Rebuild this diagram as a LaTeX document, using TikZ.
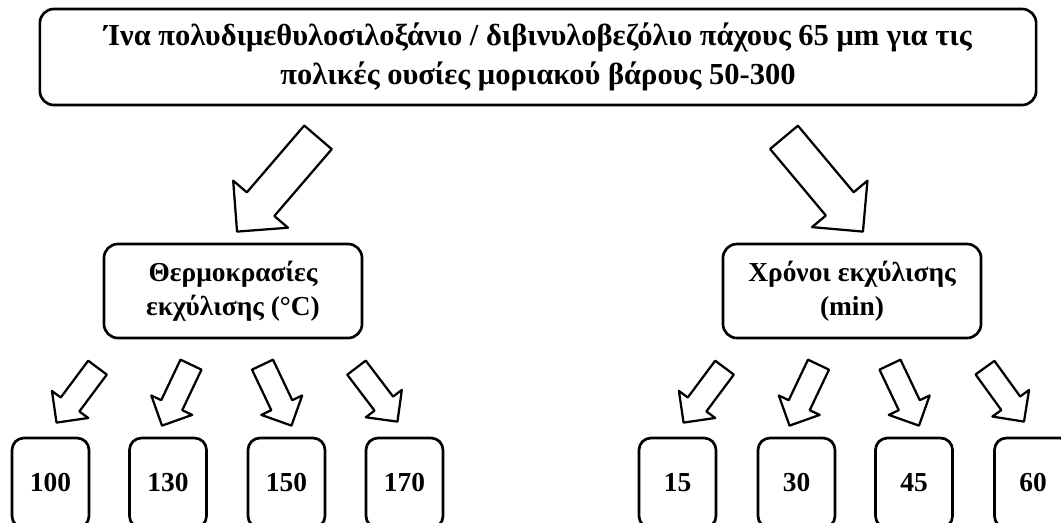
\documentclass[tikz,border=0pt]{standalone}
\usepackage{fontspec}
\setmainfont{Liberation Serif}
\usetikzlibrary{calc,shapes.arrows}

\begin{document}
\begin{tikzpicture}[x=0.025cm, y=-0.025cm, line join=round,
    box/.style={draw, line width=1.9pt, rounded corners=0.3cm, align=center, inner sep=0pt},
    head/.style={font=\fontsize{21.7}{28}\selectfont\bfseries},
    txt/.style={font=\fontsize{19.5}{24.5}\selectfont\bfseries},
    group/.style={box, txt, minimum width=6.45cm, minimum height=2.35cm, rounded corners=0.35cm},
    val/.style={box, txt, minimum width=1.925cm, minimum height=2.25cm},
    fat/.style 2 args={to path={let \p1=($(\tikztotarget)-(\tikztostart)$), \n1={veclen(\x1,\y1)}, \n2={atan2(\y1,\x1)} in
      node[single arrow, draw, line width=1.6pt, inner xsep=0pt, inner ysep=#1, outer sep=0pt,
        single arrow head extend=#2, minimum height=\n1, rotate=\n2, anchor=tail] at (\tikztostart) {} (\tikztotarget)}},
    bigarrow/.style={fat={0.425cm}{0.45cm}},
    smallarrow/.style={fat={0.2625cm}{0.275cm}}]
  \path[use as bounding box] (0,0) rectangle (1061,522);
  \clip (0,0) rectangle (1061,522);

  \node[box, head, minimum width=24.9cm, minimum height=2.4cm, rounded corners=0.35cm] (top) at (538,57)
    {Ίνα πολυδιμεθυλοσιλοξάνιο / διβινυλοβεζόλιο πάχους 65 μm για τις\\πολικές ουσίες μοριακού βάρους 50-300};

  \node[group] (temp) at (233,291) {Θερμοκρασίες\\εκχύλισης (°C)};
  \node[group] (time) at (852,291) {Χρόνοι εκχύλισης\\(min)};
  \draw ($(top.south)+(-220,31)$) to[bigarrow] ($(temp.north)+(4,-11)$);
  \draw ($(top.south)+(246,31)$) to[bigarrow] ($(time.north)+(11,-11)$);

  \node[val] (t100) at (50.5,483) {100};
  \node[val] (t130) at (168,483) {130};
  \node[val] (t150) at (286.5,483) {150};
  \node[val] (t170) at (404.5,483) {170};
  \draw ($(t100.north)+(47,-69)$) to[smallarrow] ($(t100.north)+(6,-14)$);
  \draw ($(t130.north)+(23,-72)$) to[smallarrow] ($(t130.north)+(-6,-11)$);
  \draw ($(t150.north)+(-24,-72)$) to[smallarrow] ($(t150.north)+(5,-11)$);
  \draw ($(t170.north)+(-48,-69)$) to[smallarrow] ($(t170.north)+(-7,-15)$);

  \node[val] (m15) at (677.5,483) {15};
  \node[val] (m30) at (796.5,483) {30};
  \node[val] (m45) at (914,483) {45};
  \node[val] (m60) at (1033,483) {60};
  \draw ($(m15.north)+(47,-69)$) to[smallarrow] ($(m15.north)+(6,-14)$);
  \draw ($(m30.north)+(22,-72)$) to[smallarrow] ($(m30.north)+(-7,-11)$);
  \draw ($(m45.north)+(-24,-72)$) to[smallarrow] ($(m45.north)+(5,-11)$);
  \draw ($(m60.north)+(-48,-69)$) to[smallarrow] ($(m60.north)+(-9,-15)$);
\end{tikzpicture}
\end{document}
